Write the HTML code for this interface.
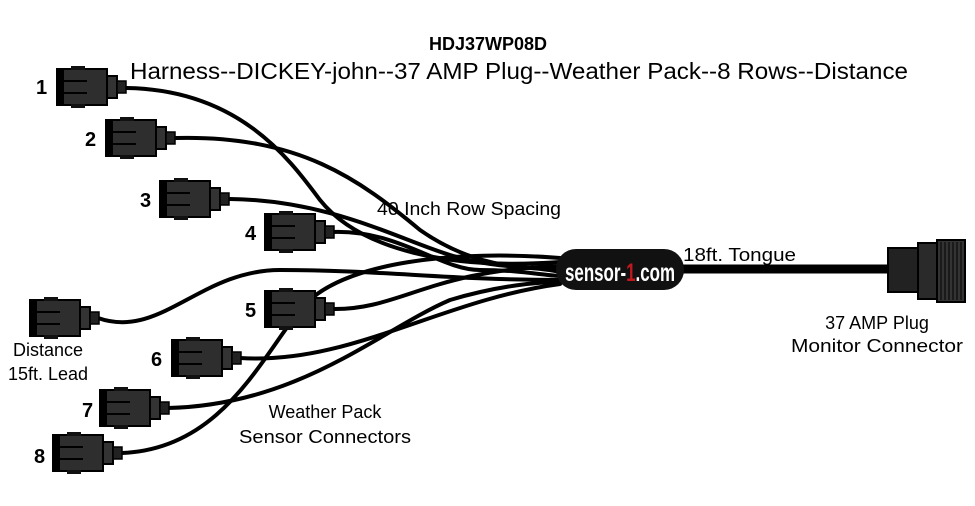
<!DOCTYPE html>
<html><head><style>
body{margin:0;background:#fff;}
svg{display:block}
</style></head><body>
<svg width="975" height="506" viewBox="0 0 975 506" xmlns="http://www.w3.org/2000/svg">
<defs>
<g id="c">
<rect x="0" y="-18" width="50" height="36" fill="#2e2e2e" stroke="#000" stroke-width="2"/>
<rect x="14" y="-21" width="14" height="4" fill="#111"/>
<rect x="14" y="17" width="14" height="4" fill="#111"/>
<rect x="0" y="-18" width="7" height="36" fill="#000"/>
<line x1="7" y1="-6" x2="30" y2="-6" stroke="#000" stroke-width="2"/>
<line x1="7" y1="6" x2="30" y2="6" stroke="#000" stroke-width="2"/>
<rect x="50" y="-11" width="10" height="22" fill="#333" stroke="#000" stroke-width="2"/>
<rect x="60" y="-6" width="9" height="12" fill="#222" stroke="#000" stroke-width="1.5"/>
</g>
</defs>
<g fill="none" stroke="#000" stroke-width="4" stroke-linecap="round">
<path d="M127 88 C240 90 290 160 320 200 C360 250 450 270 560 262"/>
<path d="M176 138 C300 135 360 180 420 230 C470 265 520 270 560 268"/>
<path d="M230 199 C330 200 400 240 450 255 C500 270 530 265 560 272"/>
<path d="M333 232 C400 230 440 270 480 270 C520 270 540 275 560 276"/>
<path d="M98 318 C160 340 200 270 280 270 C380 270 450 280 560 280"/>
<path d="M333 309 C400 310 430 270 560 266"/>
<path d="M240 358 C350 365 440 300 560 284"/>
<path d="M168 408 C300 405 380 330 450 300 C500 285 540 282 560 282"/>
<path d="M121 453 C220 450 260 360 300 310 C340 260 460 250 560 258"/>
</g>
<line x1="680" y1="269" x2="895" y2="269" stroke="#000" stroke-width="9"/>
<rect x="556" y="249" width="128" height="41" rx="20" fill="#111"/>
<text x="620" y="281" text-anchor="middle" font-family="Liberation Sans, sans-serif" font-weight="bold" font-size="25" fill="#fff" textLength="110" lengthAdjust="spacingAndGlyphs">sensor-<tspan fill="#c0181e">1</tspan>.com</text>
<rect x="888" y="248" width="32" height="44" fill="#222" stroke="#000" stroke-width="2"/>
<rect x="918" y="243" width="20" height="56" fill="#2a2a2a" stroke="#000" stroke-width="2"/>
<rect x="937" y="240" width="28" height="62" fill="#333" stroke="#000" stroke-width="2"/>
<g stroke="#000" stroke-width="1">
<line x1="941" y1="242" x2="941" y2="300"/><line x1="945" y1="242" x2="945" y2="300"/><line x1="949" y1="242" x2="949" y2="300"/><line x1="953" y1="242" x2="953" y2="300"/><line x1="957" y1="242" x2="957" y2="300"/><line x1="961" y1="242" x2="961" y2="300"/>
</g>
<use href="#c" x="57" y="87"/>
<use href="#c" x="106" y="138"/>
<use href="#c" x="160" y="199"/>
<use href="#c" x="265" y="232"/>
<use href="#c" x="30" y="318"/>
<use href="#c" x="265" y="309"/>
<use href="#c" x="172" y="358"/>
<use href="#c" x="100" y="408"/>
<use href="#c" x="53" y="453"/>
<g font-family="Liberation Sans, sans-serif" font-weight="bold" font-size="20" fill="#000">
<text x="36" y="94">1</text><text x="85" y="146">2</text><text x="140" y="207">3</text><text x="245" y="240">4</text>
<text x="245" y="317">5</text><text x="151" y="366">6</text><text x="82" y="417">7</text><text x="34" y="463">8</text>
<text x="488" y="50" text-anchor="middle" font-size="18">HDJ37WP08D</text>
</g>
<g font-family="Liberation Sans, sans-serif" fill="#000">
<text x="519" y="79" text-anchor="middle" font-size="23" textLength="778" lengthAdjust="spacingAndGlyphs">Harness--DICKEY-john--37 AMP Plug--Weather Pack--8 Rows--Distance</text>
<g font-size="18">
<text x="377" y="215" textLength="184" lengthAdjust="spacingAndGlyphs">40 Inch Row Spacing</text>
<text x="683" y="261" textLength="113" lengthAdjust="spacingAndGlyphs">18ft. Tongue</text>
<text x="877" y="329" text-anchor="middle">37 AMP Plug</text>
<text x="877" y="352" text-anchor="middle" textLength="172" lengthAdjust="spacingAndGlyphs">Monitor Connector</text>
<text x="48" y="356" text-anchor="middle">Distance</text>
<text x="48" y="380" text-anchor="middle">15ft. Lead</text>
<text x="325" y="418" text-anchor="middle">Weather Pack</text>
<text x="325" y="443" text-anchor="middle" textLength="172" lengthAdjust="spacingAndGlyphs">Sensor Connectors</text>
</g></g>
</svg>
</body></html>
